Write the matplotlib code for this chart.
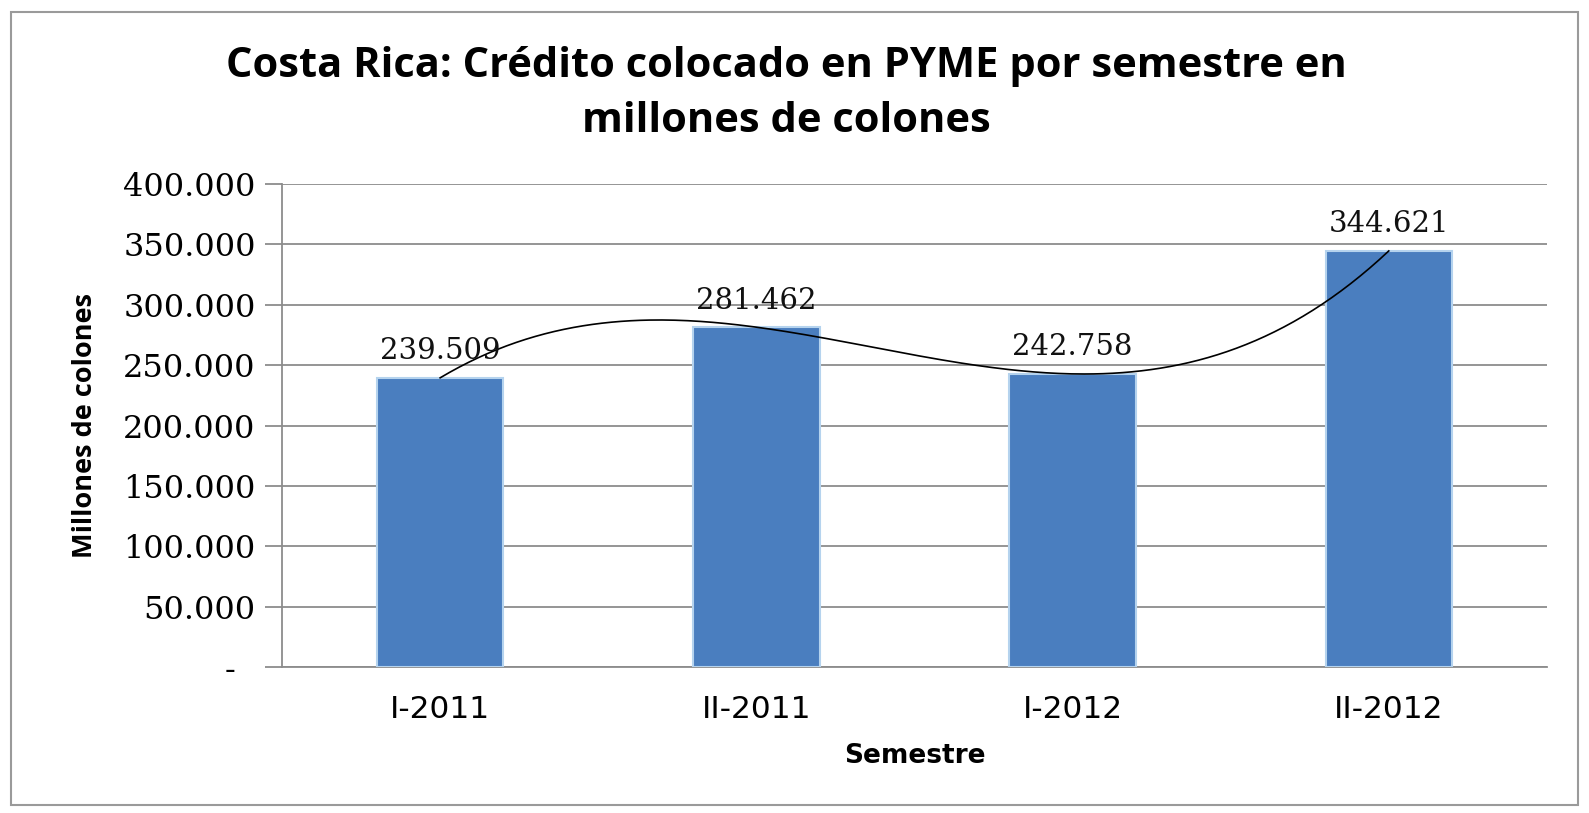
import numpy as np
import matplotlib
matplotlib.use("Agg")
import matplotlib.pyplot as plt
from matplotlib.patches import Rectangle
from matplotlib.ticker import FuncFormatter

# data
semestres = ["I-2011", "II-2011", "I-2012", "II-2012"]
credito = [239509, 281462, 242758, 344621]
y_ticks = [0, 50000, 100000, 150000, 200000, 250000, 300000, 350000, 400000]

BAR_COLOR = "#4a7ebf"
GRID_COLOR = "#8c8c8c"
NUM_FONT = "DejaVu Serif"


def miles(v, pos=None):
    # accounting style: zero shows as a dash, set in from the right edge
    if v == 0:
        return "-  "
    return f"{v:,.0f}".replace(",", ".")


fig = plt.figure(figsize=(15.89, 8.13), dpi=100)
ax = fig.add_axes([0.1775, 0.1796, 0.796, 0.594])

x = np.arange(len(semestres))
ax.bar(x, credito, width=0.4, color=BAR_COLOR, edgecolor="#b5d3ee",
       linewidth=1.5, zorder=3)

# polynomial (order 3) trend line, as in the original spreadsheet chart
coef = np.polyfit(x, credito, 3)
xs = np.linspace(x[0], x[-1], 300)
ax.plot(xs, np.polyval(coef, xs), color="black", linewidth=1.2, zorder=4)

for xi, val in zip(x, credito):
    ax.annotate(miles(val), (xi, val), xytext=(0, 9), textcoords="offset points",
                ha="center", va="bottom", fontsize=21, family=NUM_FONT,
                color="#111111", zorder=5)

ax.set_xlim(-0.5, 3.5)
ax.set_ylim(0, 400000)
ax.set_yticks(y_ticks)
ax.yaxis.set_major_formatter(FuncFormatter(miles))
ax.set_xticks(x)
ax.set_xticklabels(semestres)

for lab in ax.get_yticklabels():
    lab.set_family(NUM_FONT)
    lab.set_fontsize(23)
for lab in ax.get_xticklabels():
    lab.set_family("DejaVu Sans")
    lab.set_fontsize(22.5)

ax.grid(axis="y", color=GRID_COLOR, linewidth=1.3, zorder=0)
ax.tick_params(axis="y", length=12, width=1.3, color=GRID_COLOR, pad=7)
ax.tick_params(axis="x", length=0, pad=20)
for side in ["top", "right"]:
    ax.spines[side].set_visible(False)
for side in ["left", "bottom"]:
    ax.spines[side].set_color(GRID_COLOR)
    ax.spines[side].set_linewidth(1.3)

ax.set_ylabel("Millones de colones", fontsize=19.5, fontweight="bold",
              family="Open Sans", labelpad=18)
ax.set_xlabel("Semestre", fontsize=19, fontweight="bold", family="DejaVu Sans",
              labelpad=14)

fig.text(0.495, 0.884,
         "Costa Rica: Crédito colocado en PYME por semestre en\nmillones de colones",
         ha="center", va="center", fontsize=30, fontweight="bold",
         family="Open Sans", linespacing=1.45)

# outer chart border
fig.patches.append(Rectangle((0.007, 0.01), 0.986, 0.975, transform=fig.transFigure,
                             fill=False, edgecolor="#9a9a9a", linewidth=1.5))

fig.savefig("out.png", dpi=100)
